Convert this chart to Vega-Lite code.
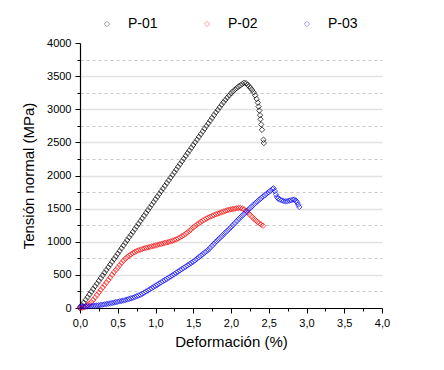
{
"$schema":"https://vega.github.io/schema/vega-lite/v6.json",
"autosize":{"type":"none"},
"padding":{"left":80,"top":43,"right":62,"bottom":62},
"width":302,"height":265,
"background":"white",
"config":{"view":{"stroke":null},"font":"Liberation Sans"},
"data":{"values":[
{"s":"P-01","x":0,"y":0},{"s":"P-01","x":0.025,"y":41},{"s":"P-01","x":0.05,"y":82},{"s":"P-01","x":0.075,"y":123},{"s":"P-01","x":0.1,"y":164},{"s":"P-01","x":0.125,"y":205},{"s":"P-01","x":0.15,"y":246},{"s":"P-01","x":0.175,"y":287},{"s":"P-01","x":0.2,"y":328},{"s":"P-01","x":0.225,"y":369},{"s":"P-01","x":0.25,"y":410},{"s":"P-01","x":0.275,"y":451},{"s":"P-01","x":0.3,"y":492},{"s":"P-01","x":0.325,"y":533},{"s":"P-01","x":0.35,"y":574},{"s":"P-01","x":0.375,"y":615},{"s":"P-01","x":0.4,"y":656},{"s":"P-01","x":0.425,"y":697},{"s":"P-01","x":0.45,"y":738},{"s":"P-01","x":0.475,"y":779},{"s":"P-01","x":0.5,"y":820},{"s":"P-01","x":0.525,"y":861},{"s":"P-01","x":0.55,"y":902},{"s":"P-01","x":0.575,"y":943},{"s":"P-01","x":0.6,"y":984},{"s":"P-01","x":0.625,"y":1025},{"s":"P-01","x":0.65,"y":1066},{"s":"P-01","x":0.675,"y":1107},{"s":"P-01","x":0.7,"y":1148},{"s":"P-01","x":0.725,"y":1189},{"s":"P-01","x":0.75,"y":1230},{"s":"P-01","x":0.775,"y":1271},{"s":"P-01","x":0.8,"y":1312},{"s":"P-01","x":0.825,"y":1353},{"s":"P-01","x":0.85,"y":1394},{"s":"P-01","x":0.875,"y":1435},{"s":"P-01","x":0.9,"y":1476},{"s":"P-01","x":0.925,"y":1517},{"s":"P-01","x":0.95,"y":1558},{"s":"P-01","x":0.975,"y":1599},{"s":"P-01","x":1.0,"y":1640},{"s":"P-01","x":1.025,"y":1681},{"s":"P-01","x":1.05,"y":1722},{"s":"P-01","x":1.075,"y":1763},{"s":"P-01","x":1.1,"y":1804},{"s":"P-01","x":1.125,"y":1845},{"s":"P-01","x":1.15,"y":1886},{"s":"P-01","x":1.175,"y":1927},{"s":"P-01","x":1.2,"y":1968},{"s":"P-01","x":1.225,"y":2009},{"s":"P-01","x":1.25,"y":2050},{"s":"P-01","x":1.275,"y":2091},{"s":"P-01","x":1.3,"y":2132},{"s":"P-01","x":1.325,"y":2173},{"s":"P-01","x":1.35,"y":2214},{"s":"P-01","x":1.375,"y":2255},{"s":"P-01","x":1.4,"y":2296},{"s":"P-01","x":1.425,"y":2337},{"s":"P-01","x":1.45,"y":2378},{"s":"P-01","x":1.475,"y":2419},{"s":"P-01","x":1.5,"y":2460},{"s":"P-01","x":1.525,"y":2501},{"s":"P-01","x":1.55,"y":2542},{"s":"P-01","x":1.575,"y":2583},{"s":"P-01","x":1.6,"y":2624},{"s":"P-01","x":1.625,"y":2665},{"s":"P-01","x":1.65,"y":2706},{"s":"P-01","x":1.675,"y":2747},{"s":"P-01","x":1.7,"y":2788},{"s":"P-01","x":1.725,"y":2829},{"s":"P-01","x":1.75,"y":2870},{"s":"P-01","x":1.775,"y":2911},{"s":"P-01","x":1.8,"y":2952},{"s":"P-01","x":1.825,"y":2990},{"s":"P-01","x":1.85,"y":3030},{"s":"P-01","x":1.875,"y":3068},{"s":"P-01","x":1.9,"y":3105},{"s":"P-01","x":1.925,"y":3140},{"s":"P-01","x":1.95,"y":3175},{"s":"P-01","x":1.975,"y":3208},{"s":"P-01","x":2.0,"y":3240},{"s":"P-01","x":2.025,"y":3268},{"s":"P-01","x":2.05,"y":3295},{"s":"P-01","x":2.075,"y":3320},{"s":"P-01","x":2.1,"y":3342},{"s":"P-01","x":2.125,"y":3362},{"s":"P-01","x":2.15,"y":3382},{"s":"P-01","x":2.175,"y":3400},{"s":"P-01","x":2.2,"y":3392},{"s":"P-01","x":2.22,"y":3370},{"s":"P-01","x":2.24,"y":3345},{"s":"P-01","x":2.26,"y":3318},{"s":"P-01","x":2.28,"y":3290},{"s":"P-01","x":2.3,"y":3255},{"s":"P-01","x":2.32,"y":3210},{"s":"P-01","x":2.34,"y":3155},{"s":"P-01","x":2.355,"y":3100},{"s":"P-01","x":2.365,"y":3040},{"s":"P-01","x":2.375,"y":2980},{"s":"P-01","x":2.385,"y":2910},{"s":"P-01","x":2.39,"y":2850},{"s":"P-01","x":2.4,"y":2770},{"s":"P-01","x":2.41,"y":2690},{"s":"P-01","x":2.43,"y":2540},{"s":"P-01","x":2.435,"y":2490},
{"s":"P-02","x":0,"y":0},{"s":"P-02","x":0.025,"y":3},{"s":"P-02","x":0.05,"y":10},{"s":"P-02","x":0.075,"y":22},{"s":"P-02","x":0.1,"y":40},{"s":"P-02","x":0.125,"y":62},{"s":"P-02","x":0.15,"y":90},{"s":"P-02","x":0.175,"y":122},{"s":"P-02","x":0.2,"y":160},{"s":"P-02","x":0.225,"y":198},{"s":"P-02","x":0.25,"y":236},{"s":"P-02","x":0.275,"y":273},{"s":"P-02","x":0.3,"y":310},{"s":"P-02","x":0.325,"y":348},{"s":"P-02","x":0.35,"y":385},{"s":"P-02","x":0.375,"y":422},{"s":"P-02","x":0.4,"y":460},{"s":"P-02","x":0.425,"y":500},{"s":"P-02","x":0.45,"y":540},{"s":"P-02","x":0.475,"y":575},{"s":"P-02","x":0.5,"y":610},{"s":"P-02","x":0.525,"y":645},{"s":"P-02","x":0.55,"y":680},{"s":"P-02","x":0.575,"y":713},{"s":"P-02","x":0.6,"y":745},{"s":"P-02","x":0.625,"y":768},{"s":"P-02","x":0.65,"y":790},{"s":"P-02","x":0.675,"y":810},{"s":"P-02","x":0.7,"y":830},{"s":"P-02","x":0.725,"y":845},{"s":"P-02","x":0.75,"y":860},{"s":"P-02","x":0.775,"y":870},{"s":"P-02","x":0.8,"y":880},{"s":"P-02","x":0.825,"y":890},{"s":"P-02","x":0.85,"y":900},{"s":"P-02","x":0.875,"y":908},{"s":"P-02","x":0.9,"y":915},{"s":"P-02","x":0.925,"y":922},{"s":"P-02","x":0.95,"y":930},{"s":"P-02","x":0.975,"y":937},{"s":"P-02","x":1.0,"y":945},{"s":"P-02","x":1.025,"y":952},{"s":"P-02","x":1.05,"y":960},{"s":"P-02","x":1.075,"y":967},{"s":"P-02","x":1.1,"y":975},{"s":"P-02","x":1.125,"y":982},{"s":"P-02","x":1.15,"y":990},{"s":"P-02","x":1.175,"y":997},{"s":"P-02","x":1.2,"y":1005},{"s":"P-02","x":1.225,"y":1015},{"s":"P-02","x":1.25,"y":1025},{"s":"P-02","x":1.275,"y":1037},{"s":"P-02","x":1.3,"y":1050},{"s":"P-02","x":1.325,"y":1065},{"s":"P-02","x":1.35,"y":1082},{"s":"P-02","x":1.375,"y":1100},{"s":"P-02","x":1.4,"y":1120},{"s":"P-02","x":1.425,"y":1142},{"s":"P-02","x":1.45,"y":1165},{"s":"P-02","x":1.475,"y":1190},{"s":"P-02","x":1.5,"y":1215},{"s":"P-02","x":1.525,"y":1238},{"s":"P-02","x":1.55,"y":1260},{"s":"P-02","x":1.575,"y":1280},{"s":"P-02","x":1.6,"y":1300},{"s":"P-02","x":1.625,"y":1318},{"s":"P-02","x":1.65,"y":1335},{"s":"P-02","x":1.675,"y":1350},{"s":"P-02","x":1.7,"y":1365},{"s":"P-02","x":1.725,"y":1378},{"s":"P-02","x":1.75,"y":1390},{"s":"P-02","x":1.775,"y":1403},{"s":"P-02","x":1.8,"y":1415},{"s":"P-02","x":1.825,"y":1425},{"s":"P-02","x":1.85,"y":1435},{"s":"P-02","x":1.875,"y":1445},{"s":"P-02","x":1.9,"y":1455},{"s":"P-02","x":1.925,"y":1465},{"s":"P-02","x":1.95,"y":1475},{"s":"P-02","x":1.975,"y":1483},{"s":"P-02","x":2.0,"y":1490},{"s":"P-02","x":2.025,"y":1495},{"s":"P-02","x":2.05,"y":1500},{"s":"P-02","x":2.075,"y":1505},{"s":"P-02","x":2.1,"y":1510},{"s":"P-02","x":2.125,"y":1510},{"s":"P-02","x":2.15,"y":1502},{"s":"P-02","x":2.175,"y":1488},{"s":"P-02","x":2.2,"y":1468},{"s":"P-02","x":2.225,"y":1440},{"s":"P-02","x":2.25,"y":1410},{"s":"P-02","x":2.275,"y":1380},{"s":"P-02","x":2.3,"y":1350},{"s":"P-02","x":2.325,"y":1325},{"s":"P-02","x":2.35,"y":1300},{"s":"P-02","x":2.375,"y":1280},{"s":"P-02","x":2.4,"y":1260},{"s":"P-02","x":2.425,"y":1242},
{"s":"P-03","x":0,"y":20},{"s":"P-03","x":0.025,"y":21},{"s":"P-03","x":0.05,"y":22},{"s":"P-03","x":0.075,"y":23},{"s":"P-03","x":0.1,"y":25},{"s":"P-03","x":0.125,"y":27},{"s":"P-03","x":0.15,"y":29},{"s":"P-03","x":0.175,"y":32},{"s":"P-03","x":0.2,"y":35},{"s":"P-03","x":0.225,"y":38},{"s":"P-03","x":0.25,"y":42},{"s":"P-03","x":0.275,"y":46},{"s":"P-03","x":0.3,"y":50},{"s":"P-03","x":0.325,"y":55},{"s":"P-03","x":0.35,"y":60},{"s":"P-03","x":0.375,"y":65},{"s":"P-03","x":0.4,"y":70},{"s":"P-03","x":0.425,"y":76},{"s":"P-03","x":0.45,"y":82},{"s":"P-03","x":0.475,"y":88},{"s":"P-03","x":0.5,"y":95},{"s":"P-03","x":0.525,"y":101},{"s":"P-03","x":0.55,"y":107},{"s":"P-03","x":0.575,"y":113},{"s":"P-03","x":0.6,"y":120},{"s":"P-03","x":0.625,"y":128},{"s":"P-03","x":0.65,"y":137},{"s":"P-03","x":0.675,"y":146},{"s":"P-03","x":0.7,"y":155},{"s":"P-03","x":0.725,"y":165},{"s":"P-03","x":0.75,"y":176},{"s":"P-03","x":0.775,"y":188},{"s":"P-03","x":0.8,"y":200},{"s":"P-03","x":0.825,"y":215},{"s":"P-03","x":0.85,"y":231},{"s":"P-03","x":0.875,"y":248},{"s":"P-03","x":0.9,"y":265},{"s":"P-03","x":0.925,"y":282},{"s":"P-03","x":0.95,"y":300},{"s":"P-03","x":0.975,"y":318},{"s":"P-03","x":1.0,"y":335},{"s":"P-03","x":1.025,"y":352},{"s":"P-03","x":1.05,"y":370},{"s":"P-03","x":1.075,"y":388},{"s":"P-03","x":1.1,"y":405},{"s":"P-03","x":1.125,"y":422},{"s":"P-03","x":1.15,"y":440},{"s":"P-03","x":1.175,"y":458},{"s":"P-03","x":1.2,"y":475},{"s":"P-03","x":1.225,"y":494},{"s":"P-03","x":1.25,"y":512},{"s":"P-03","x":1.275,"y":531},{"s":"P-03","x":1.3,"y":550},{"s":"P-03","x":1.325,"y":569},{"s":"P-03","x":1.35,"y":588},{"s":"P-03","x":1.375,"y":606},{"s":"P-03","x":1.4,"y":625},{"s":"P-03","x":1.425,"y":644},{"s":"P-03","x":1.45,"y":662},{"s":"P-03","x":1.475,"y":681},{"s":"P-03","x":1.5,"y":700},{"s":"P-03","x":1.525,"y":722},{"s":"P-03","x":1.55,"y":745},{"s":"P-03","x":1.575,"y":768},{"s":"P-03","x":1.6,"y":790},{"s":"P-03","x":1.625,"y":812},{"s":"P-03","x":1.65,"y":835},{"s":"P-03","x":1.675,"y":858},{"s":"P-03","x":1.7,"y":880},{"s":"P-03","x":1.725,"y":910},{"s":"P-03","x":1.75,"y":940},{"s":"P-03","x":1.775,"y":970},{"s":"P-03","x":1.8,"y":1000},{"s":"P-03","x":1.825,"y":1028},{"s":"P-03","x":1.85,"y":1055},{"s":"P-03","x":1.875,"y":1082},{"s":"P-03","x":1.9,"y":1110},{"s":"P-03","x":1.925,"y":1138},{"s":"P-03","x":1.95,"y":1165},{"s":"P-03","x":1.975,"y":1192},{"s":"P-03","x":2.0,"y":1220},{"s":"P-03","x":2.025,"y":1250},{"s":"P-03","x":2.05,"y":1280},{"s":"P-03","x":2.075,"y":1310},{"s":"P-03","x":2.1,"y":1340},{"s":"P-03","x":2.125,"y":1368},{"s":"P-03","x":2.15,"y":1395},{"s":"P-03","x":2.175,"y":1422},{"s":"P-03","x":2.2,"y":1450},{"s":"P-03","x":2.225,"y":1478},{"s":"P-03","x":2.25,"y":1505},{"s":"P-03","x":2.275,"y":1532},{"s":"P-03","x":2.3,"y":1560},{"s":"P-03","x":2.325,"y":1585},{"s":"P-03","x":2.35,"y":1610},{"s":"P-03","x":2.375,"y":1635},{"s":"P-03","x":2.4,"y":1660},{"s":"P-03","x":2.425,"y":1683},{"s":"P-03","x":2.45,"y":1705},{"s":"P-03","x":2.475,"y":1728},{"s":"P-03","x":2.5,"y":1750},{"s":"P-03","x":2.525,"y":1772},{"s":"P-03","x":2.55,"y":1795},{"s":"P-03","x":2.565,"y":1805},{"s":"P-03","x":2.58,"y":1765},{"s":"P-03","x":2.595,"y":1715},{"s":"P-03","x":2.61,"y":1675},{"s":"P-03","x":2.625,"y":1652},{"s":"P-03","x":2.645,"y":1638},{"s":"P-03","x":2.67,"y":1625},{"s":"P-03","x":2.695,"y":1615},{"s":"P-03","x":2.72,"y":1610},{"s":"P-03","x":2.745,"y":1612},{"s":"P-03","x":2.77,"y":1620},{"s":"P-03","x":2.795,"y":1628},{"s":"P-03","x":2.82,"y":1635},{"s":"P-03","x":2.84,"y":1635},{"s":"P-03","x":2.86,"y":1620},{"s":"P-03","x":2.875,"y":1595},{"s":"P-03","x":2.89,"y":1560},{"s":"P-03","x":2.905,"y":1525}
]},
"mark":{"type":"point","shape":"diamond","filled":false,"size":30,"strokeWidth":1,"opacity":0.7},
"encoding":{
"x":{"field":"x","type":"quantitative","scale":{"domain":[0,4],"nice":false},
 "axis":{"title":"Deformación (%)","titleFont":"Liberation Sans","titleFontSize":15,"titleFontWeight":"normal","titleColor":"#000","titlePadding":6,
 "values":[0,0.25,0.5,0.75,1,1.25,1.5,1.75,2,2.25,2.5,2.75,3,3.25,3.5,3.75,4],
 "labelExpr":"round(datum.value*4) % 2 === 0 ? replace(format(datum.value,'.1f'),'.',',') : ''",
 "labelFontSize":11,"labelColor":"#000","labelPadding":4,"labelFlush":false,"labelOverlap":false,
 "tickSize":{"condition":{"test":"round(datum.value*4) % 2 === 0","value":5},"value":3},
 "tickColor":"#000","domainColor":"#000","domainWidth":1.2,"grid":false}},
"y":{"field":"y","type":"quantitative","scale":{"domain":[0,4000],"nice":false},
 "axis":{"title":"Tensión normal (MPa)","titleFont":"Liberation Sans","titleFontSize":15,"titleFontWeight":"normal","titleColor":"#000","titlePadding":10,
 "values":[0,250,500,750,1000,1250,1500,1750,2000,2250,2500,2750,3000,3250,3500,3750,4000],
 "labelExpr":"datum.value % 500 === 0 ? format(datum.value,'d') : ''",
 "labelFontSize":11,"labelColor":"#000","labelPadding":4,"labelOverlap":false,
 "tickSize":{"condition":{"test":"datum.value % 500 === 0","value":5},"value":3},
 "tickColor":"#000","domainColor":"#000","domainWidth":1.2,
 "grid":true,
 "gridColor":{"condition":{"test":"datum.value % 500 === 0","value":"#e2e2e2"},"value":"#c8c8c8"},
 "gridDash":{"condition":{"test":"datum.value % 500 === 0","value":[]},"value":[3,3]},
 "gridWidth":{"condition":{"test":"datum.value % 500 === 0","value":1.5},"value":1},
 "gridOpacity":{"condition":{"test":"datum.value === 0 || datum.value === 4000","value":0},"value":1}}},
"color":{"field":"s","type":"nominal","scale":{"domain":["P-01","P-02","P-03"],"range":["#000000","#ff0000","#0000ff"]},
 "legend":{"title":null,"orient":"none","direction":"horizontal","legendX":20,"legendY":-26,
 "symbolType":"diamond","symbolFillColor":"transparent","symbolSize":30,"symbolStrokeWidth":0.9,"symbolOpacity":0.4,
 "labelFontSize":14,"labelColor":"#000","labelOffset":14,"columnPadding":42}}
}
}
